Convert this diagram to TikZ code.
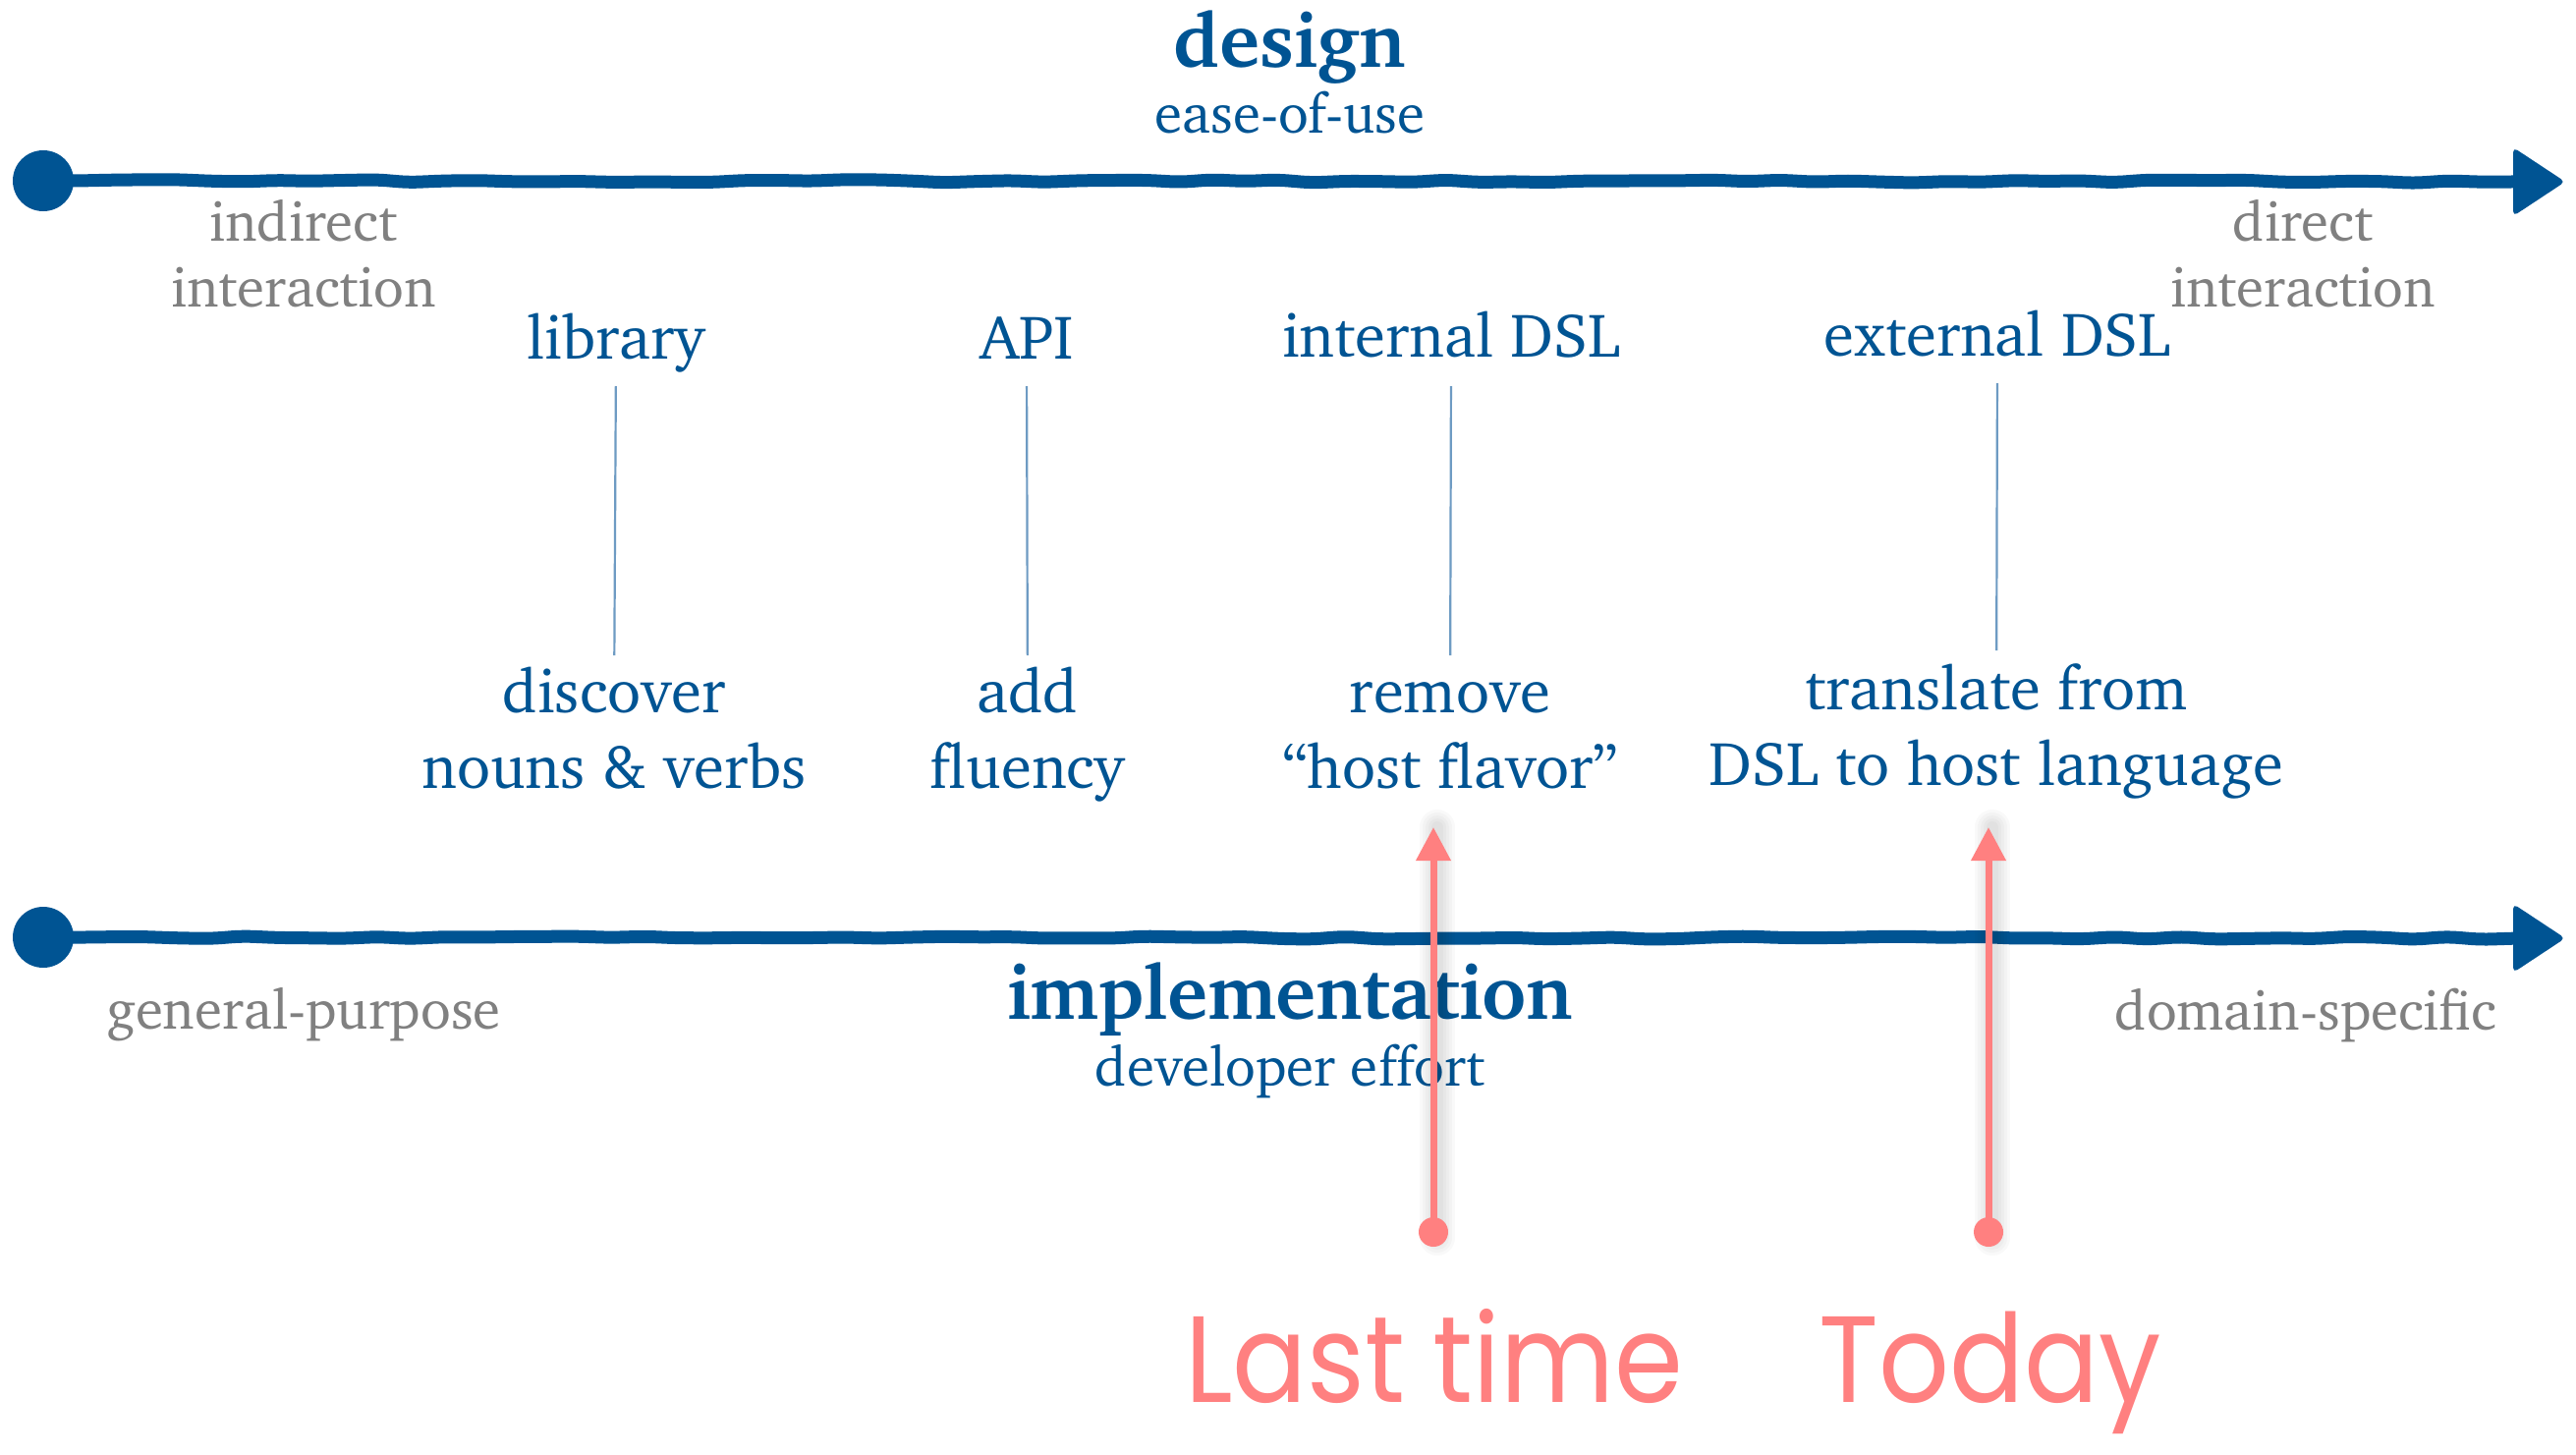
\documentclass[tikz,border=0pt]{standalone}
\usepackage[T1]{fontenc}
\usepackage{fontspec}
\newfontfamily\handfont{Poppins}
\usetikzlibrary{arrows.meta,decorations.pathmorphing}

% Charter (Type 1) for all the serif labels
\newcommand\chfont[2]{\fontencoding{T1}\fontfamily{bch}\fontsize{#1}{#2}\selectfont}
\newcommand\twolines[2]{\begin{tabular}[t]{@{}c@{}}#1\\#2\end{tabular}}
\newcommand\narrow[1]{\scalebox{0.9}[1]{#1}}

\definecolor{axisblue}{RGB}{0,84,147}
\definecolor{labelgrey}{RGB}{128,128,128}
\definecolor{tickblue}{RGB}{110,155,195}
\definecolor{notered}{RGB}{255,128,128}

\tikzset{
  axisline/.style={draw=axisblue, line width=13pt, line cap=round,
    decorate, decoration={random steps, segment length=34pt, amplitude=1.6pt},
    rounded corners=10pt},
  axisdot/.style={circle, fill=axisblue, minimum size=62pt, inner sep=0pt},
  axishead/.style={fill=axisblue, rounded corners=5pt},
  headline/.style={anchor=base, inner sep=0pt, text=axisblue,
    font={\chfont{78}{82}\bfseries}},
  subline/.style={anchor=base, inner sep=0pt, text=axisblue,
    font={\chfont{57}{60}}},
  endlabel/.style={anchor=base, inner sep=0pt, text=labelgrey,
    font={\chfont{57}{67}}},
  toplabel/.style={anchor=base, inner sep=0pt, text=axisblue,
    font={\chfont{63}{77}}},
  steplabel/.style={anchor=base, inner sep=0pt, text=axisblue,
    font={\chfont{63}{77}}},
  tickline/.style={draw=tickblue, line width=2.2pt},
  notedot/.style={circle, fill=notered, minimum size=30pt, inner sep=0pt},
  notearrow/.style={draw=notered, line width=7pt,
    -{Triangle[length=34pt,width=34pt]}},
  noteshadow/.style={draw=black, opacity=0.025, line cap=round},
  notetext/.style={anchor=base west, inner sep=0pt, text=notered,
    font={\handfont\fontsize{125}{125}\selectfont}},
}

\begin{document}
\begin{tikzpicture}[x=1pt,y=-1pt]
\useasboundingbox[fill=white] (0,0) rectangle (2622,1480);

% ---- design axis ----
\node[headline] (design) at (1313,68) {design};
\node[subline]  (ease)   at (1313,135) {ease-of-use};
\node[axisdot] (da) at (44,184) {};
\coordinate (db) at (2566,185);
\draw[axisline] (da.center) -- (db);
\fill[axishead] (2558,150) -- (2611,185) -- (2558,220) -- cycle;
\node[endlabel] (indirect) at (309,245) {\twolines{indirect}{interaction}};
\node[endlabel] (direct)   at (2344,245) {\twolines{direct}{interaction}};

% ---- the four levels ----
\node[toplabel] (lib) at (627,365)  {library};
\node[toplabel] (api) at (1045,365) {API};
\node[toplabel] (int) at (1477,363) {internal DSL};
\node[toplabel] (ext) at (2033,362) {external DSL};

\node[steplabel] (disc)  at (625,725)  {\twolines{discover}{nouns \& verbs}};
\node[steplabel] (add)   at (1046,725) {\twolines{add}{fluency}};
\node[steplabel] (rem)   at (1476,725) {\twolines{remove}{``host flavor''}};
\node[steplabel] (trans) at (2032,722) {\twolines{translate from}{DSL to host language}};

\draw[tickline, shorten <=28pt, shorten >=58pt] (lib.base) -- (disc.base);
\draw[tickline, shorten <=28pt, shorten >=58pt] (api.base) -- (add.base);
\draw[tickline, shorten <=30pt, shorten >=58pt] (int.base) -- (rem.base);
\draw[tickline, shorten <=28pt, shorten >=60pt] (ext.base) -- (trans.base);

% ---- implementation axis ----
\node[axisdot] (ia) at (44,954) {};
\coordinate (ib) at (2566,955);
\draw[axisline] (ia.center) -- (ib);
\fill[axishead] (2558,920) -- (2611,955) -- (2558,990) -- cycle;
\node[headline] (impl) at (1313,1037) {implementation};
\node[subline]  (effort) at (1313,1105) {developer effort};
\node[endlabel] (general) at (309,1047)  {general-purpose};
\node[endlabel] (domain)  at (2347,1048) {domain-specific};

% ---- notes: last time / today ----
\coordinate (lastdot) at (1459,1254);
\coordinate (lasttip) at (1459,842);
\coordinate (todaydot) at (2024,1254);
\coordinate (todaytip) at (2024,842);
\foreach \w in {12,18,24,30,36} {
  \draw[noteshadow, line width=\w pt] ([xshift=4pt,yshift=-6pt]lastdot) -- ([xshift=4pt]lasttip);
  \draw[noteshadow, line width=\w pt] ([xshift=4pt,yshift=-6pt]todaydot) -- ([xshift=4pt]todaytip);
}
\node[notedot] (last) at (lastdot) {};
\node[notedot] (today) at (todaydot) {};
\draw[notearrow] (last.center) -- (lasttip);
\draw[notearrow] (today.center) -- (todaytip);

\node[notetext] (lasttext)  at (1206,1427) {\narrow{Last\hspace{0.25em}time}};
\node[notetext] (todaytext) at (1851,1427) {\narrow{Today}};
\end{tikzpicture}
\end{document}
